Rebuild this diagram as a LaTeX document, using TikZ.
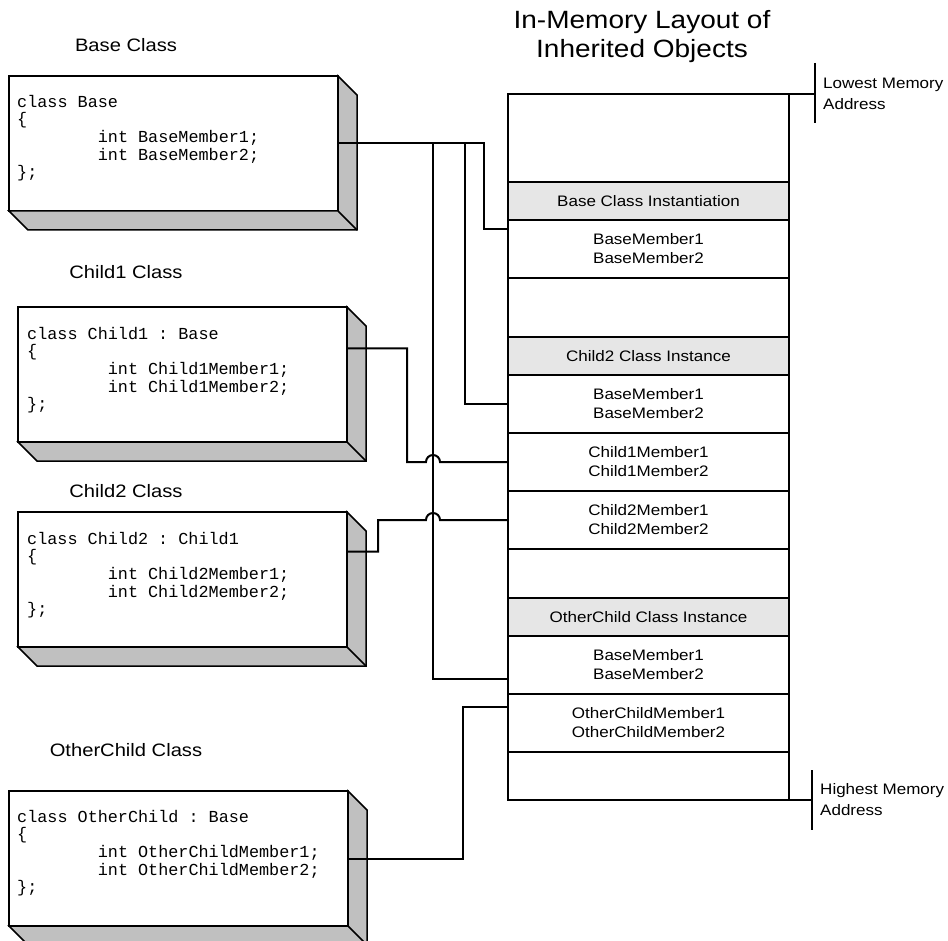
\documentclass[tikz,border=0pt]{standalone}
\usepackage{fontspec}
\setmainfont{Liberation Sans}[FakeStretch=1.12]
\setmonofont{Liberation Mono}
\usetikzlibrary{calc,positioning}
\definecolor{slab-gray}{HTML}{C0C0C0}
\definecolor{head-gray}{HTML}{E6E6E6}

% shaded bottom and right faces of a code box
\newcommand{\slab}[1]{%
  \filldraw[slab-gray, draw=black, line width=1.5pt, line join=miter]
    (#1.north east) -- ++(19,19) -- ($(#1.south east)+(19,19)$)
    -- ($(#1.south west)+(19,19)$) -- (#1.south west) -- (#1.south east) -- cycle;
  \draw[line width=1.5pt] (#1.south east) -- ++(19,19);
}
\newcommand{\codetab}{\hspace*{4.8em}}

\begin{document}
\begin{tikzpicture}[x=1pt, y=-1pt,
    title/.style={font=\fontsize{18}{24}\selectfont, align=center},
    codebox/.style={draw, fill=white, line width=1.5pt, minimum width=329pt,
      minimum height=135pt, inner sep=0, outer sep=0, anchor=north west},
    code/.style={font=\ttfamily\fontsize{16.8}{17.6}\selectfont, align=left,
      inner sep=0, anchor=north west},
    cell/.style={draw, line width=1.5pt, minimum width=281pt, minimum height=58pt,
      inner sep=0, outer sep=0, align=center, font=\fontsize{15.2}{19}\selectfont},
    head/.style={cell, fill=head-gray, minimum height=38pt},
    addr/.style={font=\fontsize{15.2}{21}\selectfont, align=left, anchor=west, inner sep=0},
    wire/.style={line width=2pt}]

    \useasboundingbox (0,0) rectangle (948,941);

    % Titles
    \node[title] (basetitle) at (126,45) {Base Class};
    \node[title] (childonetitle) at (126,272) {Child1 Class};
    \node[title] (childtwotitle) at (126,491) {Child2 Class};
    \node[title] (othertitle) at (126,750) {OtherChild Class};
    \node[title, font=\fontsize{25}{29}\selectfont] (memtitle) at (642,37)
      {In-Memory Layout of\\Inherited Objects};

    % Class declarations
    \node[codebox] (basebox) at (9,76) {};
    \slab{basebox}
    \node[code] (basecode) at ([shift={(8,19)}]basebox.north west)
      {class Base\\\{\\\codetab int BaseMember1;\\\codetab int BaseMember2;\\\};};

    \node[codebox] (childonebox) at (18,307) {};
    \slab{childonebox}
    \node[code] (childonecode) at ([shift={(9,20)}]childonebox.north west)
      {class Child1 : Base\\\{\\\codetab int Child1Member1;\\\codetab int Child1Member2;\\\};};

    \node[codebox] (childtwobox) at (18,512) {};
    \slab{childtwobox}
    \node[code] (childtwocode) at ([shift={(9,20)}]childtwobox.north west)
      {class Child2 : Child1\\\{\\\codetab int Child2Member1;\\\codetab int Child2Member2;\\\};};

    \node[codebox, minimum width=339pt] (otherbox) at (9,791) {};
    \slab{otherbox}
    \node[code] (othercode) at ([shift={(8,19)}]otherbox.north west)
      {class OtherChild : Base\\\{\\\codetab int OtherChildMember1;\\\codetab int OtherChildMember2;\\\};};

    % Memory column
    \node[draw, line width=1.5pt, minimum width=281pt, minimum height=706pt,
      inner sep=0, outer sep=0, anchor=north west] (mem) at (508,94) {};

    \node[head, below=88pt of mem.north] (hbase) {Base Class Instantiation};
    \node[cell, below=0pt of hbase] (bmemA) {BaseMember1\\BaseMember2};

    \node[head, below=59pt of bmemA] (hchildtwo) {Child2 Class Instance};
    \node[cell, below=0pt of hchildtwo] (bmemB) {BaseMember1\\BaseMember2};
    \node[cell, below=0pt of bmemB] (conememB) {Child1Member1\\Child1Member2};
    \node[cell, below=0pt of conememB] (ctwomemB) {Child2Member1\\Child2Member2};

    \node[head, below=49pt of ctwomemB] (hother) {OtherChild Class Instance};
    \node[cell, below=0pt of hother] (bmemC) {BaseMember1\\BaseMember2};
    \node[cell, below=0pt of bmemC] (omemC) {OtherChildMember1\\OtherChildMember2};

    % Address marks
    \draw[line width=1.2pt] (mem.north east) -- ++(26,0) coordinate (lowtick);
    \draw[line width=1.2pt] ($(lowtick)+(0,-31)$) -- ($(lowtick)+(0,29)$);
    \node[addr] (lowlabel) at ([xshift=8pt]lowtick) {Lowest Memory\\Address};

    \draw[line width=1.2pt] (mem.south east) -- ++(23,0) coordinate (hightick);
    \draw[line width=1.2pt] ($(hightick)+(0,-30)$) -- ($(hightick)+(0,30)$);
    \node[addr] (highlabel) at ([xshift=8pt]hightick) {Highest Memory\\Address};

    % Base members into every instance
    \coordinate (jx) at ($(basebox.east)+(95,0)$);
    \draw[wire] (basebox.east) -- ($(basebox.east)+(146,0)$) |- ([yshift=20pt]bmemA.west);
    \draw[wire] ($(basebox.east)+(127,0)$) |- (bmemB.west);
    \draw[wire] (jx) |- ([yshift=-14pt]bmemC.west);

    % Child members
    \draw[wire] ([yshift=26pt]childonebox.east) -- ++(60,0)
      |- ($(jx |- conememB.west)+(-7,0)$) arc (180:360:7) -- (conememB.west);
    \draw[wire] ([yshift=28pt]childtwobox.east) -- ++(31,0)
      |- ($(jx |- ctwomemB.west)+(-7,0)$) arc (180:360:7) -- (ctwomemB.west);
    \draw[wire] (otherbox.east) -- ++(115,0) |- ([yshift=16pt]omemC.west);

\end{tikzpicture}
\end{document}
